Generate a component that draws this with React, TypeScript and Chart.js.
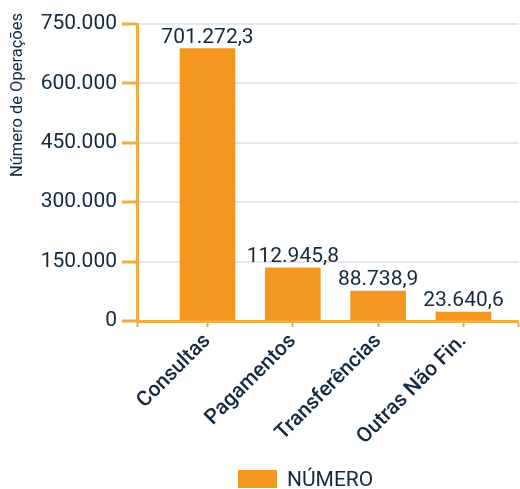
import React, { useEffect, useRef } from 'react';
import { Chart, registerables } from 'chart.js';

Chart.register(...registerables);

const categories = ['Consultas', 'Pagamentos', 'Transferências', 'Outras Não Fin.'];
const barValues = [688000, 134500, 75800, 22800];
const valueLabels = ['701.272,3', '112.945,8', '88.738,9', '23.640,6'];
const seriesName = 'NÚMERO';
const yTicks = [0, 150000, 300000, 450000, 600000, 750000];
const yTitle = 'Número de Operações';

const NAVY = '#13293f';
const ORANGE = '#f39720';
const AXIS = '#f0ad42';
const GRID = '#e4e7eb';
const FONT = 'Roboto';

function fmt(n: number): string {
  return String(Math.round(n)).replace(/\B(?=(\d{3})+(?!\d))/g, '.');
}

const valueLabelPlugin = {
  id: 'valueLabels',
  afterDatasetsDraw(chart: any) {
    const ctx = chart.ctx;
    const meta = chart.getDatasetMeta(0);
    ctx.save();
    ctx.font = `21px ${FONT}`;
    ctx.fillStyle = NAVY;
    ctx.textAlign = 'center';
    ctx.textBaseline = 'alphabetic';
    meta.data.forEach((bar: any, i: number) => {
      ctx.fillText(valueLabels[i], bar.x, bar.y - 6);
    });
    ctx.restore();
  },
};

const yTitlePlugin = {
  id: 'yTitle',
  afterDraw(chart: any) {
    const ctx = chart.ctx;
    ctx.save();
    ctx.font = `16.5px ${FONT}`;
    ctx.fillStyle = NAVY;
    ctx.textAlign = 'center';
    ctx.textBaseline = 'middle';
    ctx.translate(18, 95);
    ctx.rotate(-Math.PI / 2);
    ctx.fillText(yTitle, 0, 0);
    ctx.restore();
  },
};

function zeroPadding(s: any) {
  s.paddingLeft = 0;
  s.paddingRight = 0;
  s.paddingTop = 0;
  s.paddingBottom = 0;
}

export default function App() {
  const ref = useRef<HTMLCanvasElement>(null);

  useEffect(() => {
    if (!ref.current) return;
    const chart = new Chart(ref.current, {
      type: 'bar',
      data: {
        datasets: [
          {
            label: seriesName,
            data: barValues.map((v, i) => ({ x: i, y: v })),
            backgroundColor: ORANGE,
            barThickness: 55,
          },
        ],
      },
      options: {
        animation: false,
        responsive: false,
        devicePixelRatio: 1,
        layout: { padding: { top: 24, right: 1.5, left: 0, bottom: 0 } },
        plugins: { legend: { display: false }, tooltip: { enabled: false } },
        scales: {
          x: {
            type: 'linear',
            offset: false,
            min: -0.826,
            max: 3.645,
            afterBuildTicks: (s: any) => {
              s.ticks = [s.min, 0, 1, 2, 3, s.max].map((v: number) => ({ value: v }));
            },
            afterFit: (s: any) => {
              s.height = 168;
              zeroPadding(s);
            },
            grid: {
              offset: false,
              drawOnChartArea: false,
              drawTicks: true,
              tickLength: 6,
              tickWidth: 2,
              tickColor: AXIS,
            },
            border: { color: AXIS, width: 3 },
            ticks: {
              autoSkip: false,
              minRotation: 45,
              maxRotation: 45,
              padding: 2,
              color: NAVY,
              font: { family: FONT, size: 21, weight: 500 },
              callback: (v: any) => (Number.isInteger(v) ? categories[v] ?? '' : ''),
            },
          },
          y: {
            min: 0,
            max: 750000,
            afterBuildTicks: (s: any) => {
              s.ticks = yTicks.map((v) => ({ value: v }));
            },
            afterFit: (s: any) => {
              s.width = 137;
              zeroPadding(s);
            },
            grid: {
              color: GRID,
              lineWidth: 2,
              tickLength: 15,
              tickWidth: 3,
              tickColor: AXIS,
            },
            border: { color: AXIS, width: 3 },
            ticks: {
              padding: 5,
              color: NAVY,
              font: { family: FONT, size: 21 },
              callback: (v: any) => fmt(Number(v)),
            },
          },
        },
      },
      plugins: [valueLabelPlugin, yTitlePlugin],
    } as any);
    return () => chart.destroy();
  }, []);

  return (
    <div style={{ position: 'fixed', left: 0, top: 0, width: 520, height: 489, background: '#fff' }}>
      <canvas ref={ref} width={520} height={489} style={{ display: 'block' }} />
      <div
        style={{
          position: 'absolute',
          left: 238,
          top: 470,
          display: 'flex',
          alignItems: 'center',
          fontFamily: FONT,
          fontSize: 21,
          color: NAVY,
          lineHeight: '18px',
        }}
      >
        <span style={{ display: 'inline-block', width: 39, height: 18, background: ORANGE, marginRight: 10 }} />
        <span>{seriesName}</span>
      </div>
    </div>
  );
}
